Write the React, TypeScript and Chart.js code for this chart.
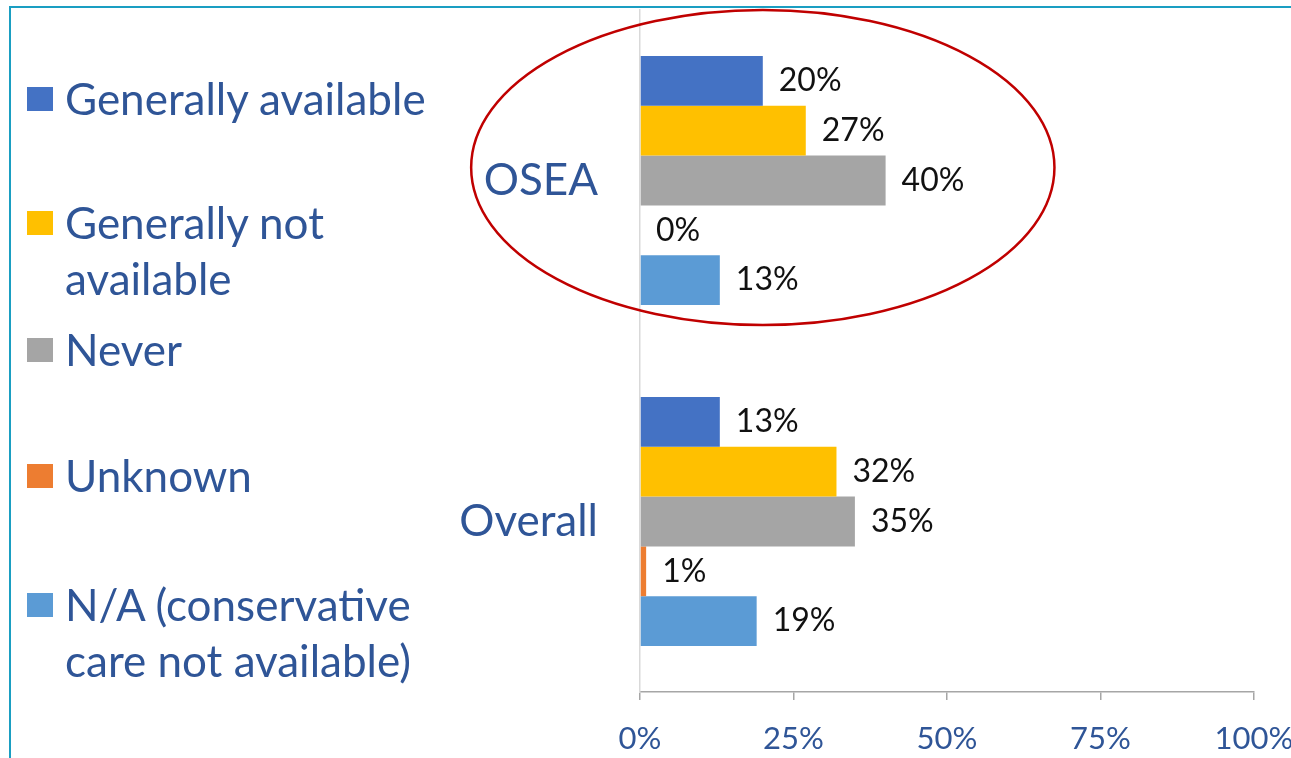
import React, { useEffect, useRef } from "react";
import { Chart, registerables } from "chart.js";

Chart.register(...registerables);

const categories = ["OSEA", "Overall"];
const seriesLabels = [
  "Generally available",
  "Generally not\navailable",
  "Never",
  "Unknown",
  "N/A (conservative\ncare not available)",
];
const seriesColors = ["#4472C4", "#FFC000", "#A5A5A5", "#ED7D31", "#5B9BD5"];
const generallyAvailable = [20, 13];
const generallyNotAvailable = [27, 32];
const never = [40, 35];
const unknown = [0, 1];
const notApplicable = [13, 19];
const seriesValues = [generallyAvailable, generallyNotAvailable, never, unknown, notApplicable];
const xTicks = [0, 25, 50, 75, 100];

const FONT = "Lato, 'Open Sans', sans-serif";
const TEXT_BLUE = "#2F5597";

const legendTops = [70, 194, 321, 447, 576];

const dataLabelPlugin = {
  id: "dataLabels",
  afterDatasetsDraw(chart: any) {
    const ctx = chart.ctx;
    ctx.save();
    ctx.font = `32px ${FONT}`;
    ctx.fillStyle = "#111";
    ctx.textAlign = "left";
    ctx.textBaseline = "middle";
    chart.data.datasets.forEach((ds: any, i: number) => {
      const meta = chart.getDatasetMeta(i);
      meta.data.forEach((el: any, j: number) => {
        ctx.fillText(ds.data[j] + "%", el.x + 16, el.y);
      });
    });
    ctx.restore();
  },
};

const ellipsePlugin = {
  id: "ellipse",
  afterDraw(chart: any) {
    const { x, y } = chart.scales;
    const ctx = chart.ctx;
    const cx = x.getPixelForValue(20);
    const catH = y.getPixelForValue(1) - y.getPixelForValue(0);
    const cy = y.getPixelForValue(0) - catH * 0.038;
    const rx = x.getPixelForValue(47.5) - x.getPixelForValue(0);
    const ry = catH * 0.462;
    ctx.save();
    ctx.beginPath();
    ctx.ellipse(cx, cy, rx, ry, 0, 0, Math.PI * 2);
    ctx.strokeStyle = "#C00000";
    ctx.lineWidth = 2.5;
    ctx.stroke();
    ctx.restore();
  },
};

export default function App() {
  const canvasRef = useRef<HTMLCanvasElement | null>(null);

  useEffect(() => {
    if (!canvasRef.current) return;
    const chart = new Chart(canvasRef.current, {
      type: "bar",
      data: {
        labels: categories,
        datasets: seriesLabels.map((label, i) => ({
          label,
          data: seriesValues[i],
          backgroundColor: seriesColors[i],
          categoryPercentage: 0.73,
          barPercentage: 1,
        })),
      },
      options: {
        indexAxis: "y",
        animation: false,
        responsive: false,
        maintainAspectRatio: false,
        layout: { padding: { left: 0, top: 10, right: 37, bottom: 0 } },
        plugins: {
          legend: { display: false },
          tooltip: { enabled: false },
        },
        scales: {
          x: {
            min: 0,
            max: 100,
            afterBuildTicks: (scale: any) => {
              scale.ticks = xTicks.map((v) => ({ value: v }));
            },
            afterFit: (scale: any) => {
              scale.height = 66;
              scale.paddingLeft = 0;
              scale.paddingRight = 0;
            },
            ticks: {
              callback: (v: any) => v + "%",
              color: TEXT_BLUE,
              font: { family: FONT, size: 31 },
              padding: 20,
              maxRotation: 0,
            },
            grid: {
              drawOnChartArea: false,
              drawTicks: true,
              tickLength: 8,
              color: "#A6A6A6",
              lineWidth: 1.5,
            },
            border: { display: true, color: "#A6A6A6", width: 1.5 },
          },
          y: {
            afterFit: (scale: any) => {
              scale.width = 640;
              scale.paddingTop = 0;
              scale.paddingBottom = 0;
            },
            ticks: {
              color: TEXT_BLUE,
              font: { family: FONT, size: 44 },
              padding: 42,
            },
            grid: { display: false, drawTicks: false },
            border: { display: true, color: "#D9D9D9", width: 1.5 },
          },
        },
      },
      plugins: [dataLabelPlugin, ellipsePlugin],
    });
    return () => chart.destroy();
  }, []);

  return (
    <div style={{ position: "fixed", left: 0, top: 0, width: 1291, height: 758, background: "#fff", overflow: "hidden" }}>
      <canvas ref={canvasRef} width={1291} height={758} style={{ position: "absolute", left: 0, top: 0 }} />
      <div
        style={{
          position: "absolute",
          left: 9,
          top: 6,
          width: 1400,
          height: 900,
          borderLeft: "2px solid #1A9EC2",
          borderTop: "2px solid #1A9EC2",
          pointerEvents: "none",
        }}
      />
      {seriesLabels.map((label, i) => (
        <div
          key={label}
          style={{
            position: "absolute",
            left: 27,
            top: legendTops[i],
            display: "flex",
            alignItems: "flex-start",
            fontFamily: FONT,
            fontSize: 44,
            lineHeight: "56px",
            color: TEXT_BLUE,
            whiteSpace: "pre-line",
          }}
        >
          <div style={{ width: 26, height: 24, background: seriesColors[i], marginTop: 17, marginRight: 12, flex: "none" }} />
          <div>{label}</div>
        </div>
      ))}
    </div>
  );
}
